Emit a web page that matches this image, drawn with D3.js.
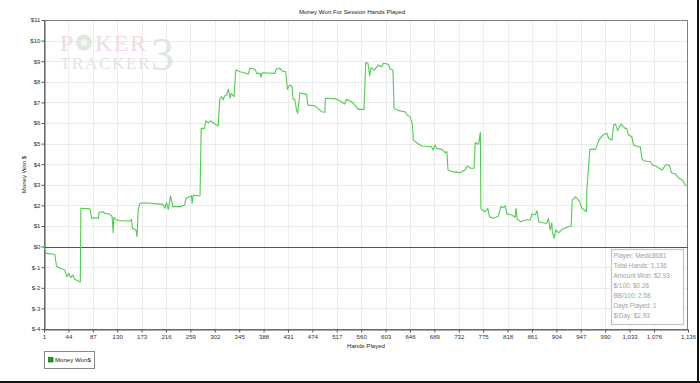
<!DOCTYPE html>
<html>
<head>
<meta charset="utf-8">
<script src="https://cdn.jsdelivr.net/npm/d3@7"></script>
<style>
html,body{margin:0;padding:0;background:#fff;}
svg{display:block;font-family:"Liberation Sans",Arial,sans-serif;}
</style>
</head>
<body>
<svg id="chart" width="700" height="383"></svg>
<script>
// ---- data ----
const title = "Money Won For Session Hands Played";
const xTitle = "Hands Played";
const yTitle = "Money Won $";
const seriesName = "Money Won$";
const xTickValues = [1,44,87,130,173,216,259,302,345,388,431,474,517,560,603,646,689,732,775,818,861,904,947,990,1033,1076,1136];
const yTickValues = [-4,-3,-2,-1,0,1,2,3,4,5,6,7,8,9,10,11];
const hands = [1,5,20,23,29,38,41,45,48,52,55,65,66,82,85,91,97,98,105,108,117,121,123,124,129,141,153,155,157,163,165,167,170,179,211,214,217,220,224,228,241,249,251,261,262,264,276,278,284,286,291,294,308,311,314,317,319,323,326,329,331,336,339,347,361,364,373,376,382,383,386,408,410,417,420,427,430,434,438,440,443,446,448,450,452,455,464,466,478,484,490,496,497,516,523,531,534,543,546,555,565,568,572,575,577,583,590,596,599,608,611,616,618,626,637,641,646,650,652,661,667,684,687,690,693,702,708,711,713,720,734,743,747,753,759,761,765,767,770,771,773,779,783,786,793,802,806,810,814,817,826,831,833,835,841,849,858,861,867,870,873,879,887,890,893,896,897,900,903,908,914,923,930,932,938,945,949,957,958,963,973,979,986,993,996,1002,1005,1008,1012,1018,1025,1028,1031,1037,1040,1049,1052,1055,1058,1070,1073,1079,1085,1091,1096,1103,1107,1114,1120,1126,1131,1136];
const won = [0,-0.33,-0.37,-0.94,-1.05,-1.14,-1.46,-1.30,-1.51,-1.38,-1.59,-1.72,1.86,1.83,1.37,1.40,1.37,1.65,1.69,1.62,1.58,1.45,0.67,1.42,1.29,1.24,1.24,1.32,0.89,0.81,0.48,1.78,2.10,2.13,2.05,1.86,2.13,1.81,2.46,1.94,1.94,2.02,2.34,2.47,2.10,2.50,2.46,5.74,5.74,6.11,6.01,6.11,5.85,7.20,7.28,7.12,7.31,7.36,7.64,7.20,7.44,7.28,8.57,8.49,8.38,8.66,8.61,8.41,8.41,8.22,8.44,8.41,8.61,8.66,8.54,8.49,7.64,7.84,7.79,7.15,7.15,6.63,6.47,6.96,7.47,7.44,7.39,6.87,6.84,6.71,6.55,6.52,7.20,7.17,7.07,6.92,7.15,7.03,6.96,6.66,6.66,8.93,8.90,8.28,8.69,8.57,8.81,8.73,8.90,8.85,8.62,8.57,6.71,6.60,6.55,6.39,6.31,5.98,5.17,4.98,4.88,4.85,4.69,4.93,4.77,4.72,4.56,4.61,3.72,3.64,3.59,3.72,3.91,3.80,3.80,5.05,4.98,4.98,5.55,1.86,1.78,1.69,1.86,1.45,1.37,1.49,1.94,1.90,1.97,1.58,1.53,1.42,1.86,1.33,1.21,1.29,1.29,1.58,1.55,1.74,1.21,1.16,1.13,1.37,0.81,1.16,0.72,0.40,0.81,0.67,0.84,0.94,1.00,2.26,2.42,2.18,1.86,1.69,2.83,4.72,4.72,5.17,5.42,5.50,5.26,5.17,5.90,5.95,5.63,5.95,5.74,5.74,5.42,5.33,4.93,4.85,4.85,4.24,4.17,4.12,3.96,3.91,3.80,3.72,3.96,3.96,3.59,3.52,3.32,3.23,2.99,2.93];
const statLines = ["Player: Medic8681","Total Hands: 1,136","Amount Won: $2.93","$/100: $0.26","BB/100: 2.58","Days Played: 1","$/Day: $2.93"];

// ---- layout ----
const W = 700, H = 383;
const m = {left:44, right:12, top:20, bottom:54};
const svg = d3.select("#chart");
const x = d3.scaleLinear().domain([1,1136]).range([m.left, W-m.right]);
const y = d3.scaleLinear().domain([-4,11]).range([H-m.bottom, m.top]);
const fmtX = d3.format(",");
const fmtY = v => "$" + v;
const FS = 6.1;

// grid
const g = svg.append("g");
g.selectAll(".vg").data(xTickValues.slice(1,-1)).join("line")
  .attr("x1",d=>Math.round(x(d))+0.5).attr("x2",d=>Math.round(x(d))+0.5)
  .attr("y1",m.top).attr("y2",H-m.bottom).attr("stroke","#ececec");
g.selectAll(".hg").data(yTickValues.slice(1,-1)).join("line")
  .attr("y1",d=>Math.round(y(d))+0.5).attr("y2",d=>Math.round(y(d))+0.5)
  .attr("x1",m.left).attr("x2",W-m.right).attr("stroke","#ececec");

// watermark
const wm = svg.append("g").attr("font-family","'Liberation Serif','DejaVu Serif',serif");
wm.append("text").attr("x",60).attr("y",51).attr("font-size",24).attr("fill","#f1dcdc").text("P");
wm.append("circle").attr("cx",84).attr("cy",42.5).attr("r",8).attr("fill","#dfe8df");
wm.append("circle").attr("cx",84).attr("cy",42.5).attr("r",3.2).attr("fill","#f3f6f3");
wm.append("text").attr("x",95).attr("y",51).attr("font-size",24).attr("fill","#f1dcdc").attr("letter-spacing",1.5).text("KER");
wm.append("text").attr("x",151).attr("y",70).attr("font-size",46).attr("fill","#dde9dd").text("3");
wm.append("text").attr("x",60).attr("y",69).attr("font-size",17).attr("fill","#e3e3e3").attr("letter-spacing",1.7).text("TRACKER");

// plot frame
svg.append("rect").attr("x",m.left+0.5).attr("y",m.top+0.5)
  .attr("width",W-m.left-m.right-1).attr("height",H-m.top-m.bottom)
  .attr("fill","none").attr("stroke","#808080");

// zero line
svg.append("line").attr("x1",m.left).attr("x2",W-m.right)
  .attr("y1",Math.round(y(0))+0.5).attr("y2",Math.round(y(0))+0.5)
  .attr("stroke","#555").attr("stroke-width",1);

// axes
const xAxis = svg.append("g").attr("transform",`translate(0,${H-m.bottom+0.5})`)
  .call(d3.axisBottom(x).tickValues(xTickValues).tickFormat(fmtX).tickSize(3).tickSizeOuter(0));
const yAxis = svg.append("g").attr("transform",`translate(${m.left+0.5},0)`)
  .call(d3.axisLeft(y).tickValues(yTickValues).tickFormat(fmtY).tickSize(3).tickSizeOuter(0));
[xAxis,yAxis].forEach(a=>{
  a.selectAll("path").attr("stroke","#555");
  a.selectAll("line").attr("stroke","#555");
  a.selectAll("text").attr("font-size",FS).attr("fill","#333").attr("font-family","'Liberation Sans',Arial,sans-serif");
});
xAxis.selectAll("text").attr("y",5).attr("dy","0.71em");
yAxis.selectAll("text").attr("x",-4);

// line
const pts = hands.map((h,i)=>[h,won[i]]);
svg.append("path").datum(pts)
  .attr("fill","none").attr("stroke","#55c955").attr("stroke-width",1.1)
  .attr("stroke-linejoin","round")
  .attr("d", d3.line().x(d=>x(d[0])).y(d=>y(d[1])));

// titles
svg.append("text").attr("x",352).attr("y",14).attr("text-anchor","middle")
  .attr("font-size",FS).attr("fill","#222").text(title);
svg.append("text").attr("x",(m.left+W-m.right)/2).attr("y",348).attr("text-anchor","middle")
  .attr("font-size",FS).attr("fill","#222").text(xTitle);
svg.append("text").attr("transform",`translate(26,${(m.top+H-m.bottom)/2}) rotate(-90)`)
  .attr("text-anchor","middle").attr("font-size",FS).attr("fill","#222").text(yTitle);

// stats box
const sb = svg.append("g");
sb.append("rect").attr("x",611.5).attr("y",249.5).attr("width",72).attr("height",75)
  .attr("fill","#fff").attr("stroke","#c4c4c4").attr("stroke-width",1.2);
sb.selectAll("text").data(statLines).join("text")
  .attr("x",613.5).attr("y",(d,i)=>258+i*10)
  .attr("font-size",6.4).attr("fill","#a0a0a0").attr("font-family","'Liberation Sans',Arial,sans-serif")
  .text(d=>d);

// legend
const lg = svg.append("g");
lg.append("rect").attr("x",44.5).attr("y",351.5).attr("width",50).attr("height",17)
  .attr("fill","#fff").attr("stroke","#888");
lg.append("rect").attr("x",48.5).attr("y",357.5).attr("width",4.5).attr("height",4.5)
  .attr("fill","#1f9a1f").attr("stroke","#0c5a0c").attr("stroke-width",0.6);
lg.append("text").attr("x",55).attr("y",362).attr("font-size",FS).attr("fill","#222").text(seriesName);

// page border (right & bottom)
svg.append("line").attr("x1",698).attr("x2",698).attr("y1",0).attr("y2",H).attr("stroke","#111").attr("stroke-width",2);
svg.append("line").attr("x1",0).attr("x2",W).attr("y1",382).attr("y2",382).attr("stroke","#111").attr("stroke-width",2);
</script>
</body>
</html>
